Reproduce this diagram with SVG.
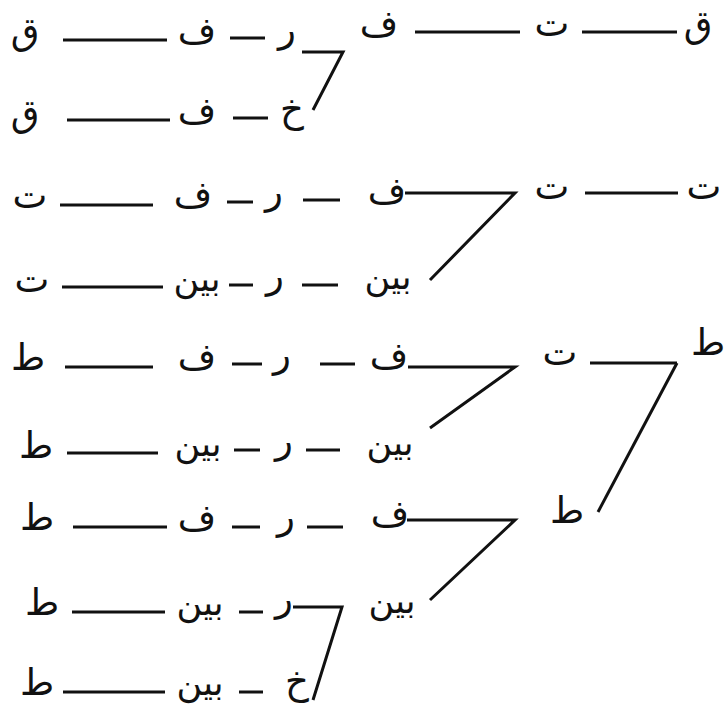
<svg xmlns="http://www.w3.org/2000/svg" width="726" height="716" viewBox="0 0 726 716">
<style>
text{font-family:"DejaVu Sans",sans-serif;font-size:37px;fill:#111;text-anchor:middle}
text.b{font-size:35px}
.c line,.c polyline{stroke:#111;stroke-width:3;fill:none;stroke-linecap:butt;stroke-linejoin:miter}
</style>
<rect width="726" height="716" fill="#fff"/>
<g class="c" id="connectors">
<line x1="63" y1="40" x2="167" y2="40"/>
<line x1="230" y1="38" x2="265" y2="38"/>
<polyline points="302,52 343,52 313,110"/>
<line x1="415" y1="32" x2="520" y2="32"/>
<line x1="582" y1="32" x2="677" y2="32"/>
<line x1="67" y1="120" x2="170" y2="120"/>
<line x1="233" y1="118" x2="268" y2="118"/>
<line x1="60" y1="205" x2="153" y2="205"/>
<line x1="227" y1="202" x2="253" y2="202"/>
<line x1="303" y1="200" x2="340" y2="200"/>
<polyline points="405,193 515,193 430,280"/>
<line x1="585" y1="193" x2="678" y2="193"/>
<line x1="62" y1="287" x2="163" y2="287"/>
<line x1="229" y1="285" x2="253" y2="285"/>
<line x1="302" y1="285" x2="338" y2="285"/>
<line x1="65" y1="367" x2="153" y2="367"/>
<line x1="232" y1="364" x2="262" y2="364"/>
<line x1="320" y1="364" x2="355" y2="364"/>
<polyline points="408,367 515,367 430,428"/>
<line x1="590" y1="363" x2="677" y2="363"/>
<polyline points="677,363 598,512"/>
<line x1="67" y1="453" x2="158" y2="453"/>
<line x1="234" y1="450" x2="260" y2="450"/>
<line x1="306" y1="450" x2="340" y2="450"/>
<line x1="73" y1="527" x2="167" y2="527"/>
<line x1="232" y1="527" x2="260" y2="527"/>
<line x1="307" y1="527" x2="343" y2="527"/>
<polyline points="407,520 515,520 430,600"/>
<line x1="72" y1="612" x2="165" y2="612"/>
<line x1="239" y1="612" x2="263" y2="612"/>
<polyline points="293,607 342,607 313,700"/>
<line x1="63" y1="692" x2="165" y2="692"/>
<line x1="239" y1="692" x2="263" y2="692"/>
</g>
<g id="r1"><text x="25" y="44">ق</text><text x="197" y="43">ف</text><text x="287" y="42">ر</text></g>
<g id="r1b"><text x="379" y="36">ف</text><text x="552" y="36">ت</text><text x="698" y="37">ق</text></g>
<g id="r2"><text x="25" y="126">ق</text><text x="197" y="123">ف</text><text x="292" y="122">خ</text></g>
<g id="r3"><text x="30" y="208">ت</text><text x="193" y="207">ف</text><text x="274" y="204">ر</text><text x="387" y="203">ف</text></g>
<g id="r3b"><text x="552" y="199">ت</text><text x="704" y="199">ت</text></g>
<g id="r4"><text x="32" y="292">ت</text><text class="b" x="197" y="291">بين</text><text x="275" y="288">ر</text><text class="b" x="388" y="289">بين</text></g>
<g id="r5"><text x="28" y="370">ط</text><text x="197" y="369">ف</text><text x="282" y="367">ر</text><text x="389" y="368">ف</text></g>
<g id="r5b"><text x="560" y="365">ت</text><text x="708" y="355">ط</text><text x="567" y="523">ط</text></g>
<g id="r6"><text x="36" y="458">ط</text><text class="b" x="198" y="456">بين</text><text x="284" y="453">ر</text><text class="b" x="390" y="455">بين</text></g>
<g id="r7"><text x="37" y="530">ط</text><text x="197" y="530">ف</text><text x="286" y="529">ر</text><text x="390" y="526">ف</text></g>
<g id="r8"><text x="42" y="615">ط</text><text class="b" x="200" y="615">بين</text><text x="284" y="611">ر</text><text class="b" x="392" y="613">بين</text></g>
<g id="r9"><text x="37" y="695">ط</text><text class="b" x="200" y="695">بين</text><text x="297" y="694">خ</text></g>
</svg>
